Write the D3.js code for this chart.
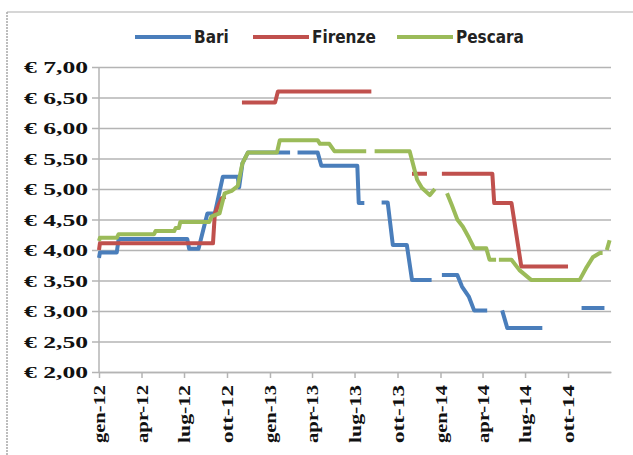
<!DOCTYPE html>
<html>
<head>
<meta charset="utf-8">
<script src="https://cdn.jsdelivr.net/npm/d3@7"></script>
<style>
  body { margin: 0; background: #fff; }
  svg { display: block; }
</style>
</head>
<body>
<svg id="chart" width="633" height="455"></svg>
<script>
// Series names and colours
const seriesNames = ["Bari", "Firenze", "Pescara"];
const seriesColors = ["#4a7ebb", "#c0504d", "#9bbb59"];

// Price steps, null = gap in the line
const bari = [
  ["2012-01-01", 3.87], ["2012-01-03", 3.96], ["2012-02-08", 3.96], ["2012-02-12", 4.18],
  ["2012-07-08", 4.18], ["2012-07-12", 4.02], ["2012-08-01", 4.02], ["2012-08-20", 4.6],
  ["2012-09-05", 4.6], ["2012-09-22", 5.2], ["2012-10-24", 5.2], ["2012-10-27", 5.03],
  ["2012-11-03", 5.42], ["2012-11-15", 5.6], ["2013-02-13", 5.6], null,
  ["2013-03-01", 5.6], ["2013-04-13", 5.6], ["2013-04-21", 5.38], ["2013-07-07", 5.38],
  ["2013-07-10", 4.77], ["2013-07-22", 4.77], null,
  ["2013-08-28", 4.78], ["2013-09-10", 4.78], ["2013-09-21", 4.08], ["2013-10-21", 4.08],
  ["2013-11-01", 3.51], ["2013-12-13", 3.51], null,
  ["2014-01-04", 3.59], ["2014-02-06", 3.59], ["2014-02-16", 3.4], ["2014-03-03", 3.23],
  ["2014-03-14", 3.01], ["2014-04-11", 3.01], null,
  ["2014-05-13", 3.01], ["2014-05-24", 2.72], ["2014-08-07", 2.72], null,
  ["2014-10-30", 3.05], ["2014-12-18", 3.05]
];

const firenze = [
  ["2012-01-01", 4.0], ["2012-01-03", 4.11], ["2012-09-01", 4.11], ["2012-09-05", 4.6],
  ["2012-09-20", 4.85], ["2012-09-28", 4.87], null,
  ["2012-11-02", 6.42], ["2013-01-12", 6.42], ["2013-01-18", 6.6], ["2013-08-06", 6.6], null,
  ["2013-11-01", 5.25], ["2013-12-03", 5.25], null,
  ["2014-01-04", 5.25], ["2014-04-22", 5.25], ["2014-04-26", 4.77], ["2014-06-02", 4.77],
  ["2014-06-23", 3.73], ["2014-10-01", 3.73]
];

const pescara = [
  ["2012-01-01", 4.15], ["2012-01-03", 4.2], ["2012-02-08", 4.2], ["2012-02-12", 4.26],
  ["2012-04-28", 4.26], ["2012-05-01", 4.31], ["2012-06-10", 4.31], ["2012-06-13", 4.36],
  ["2012-06-20", 4.36], ["2012-06-23", 4.46], ["2012-08-24", 4.46], ["2012-08-29", 4.55],
  ["2012-09-15", 4.6], ["2012-09-26", 4.93], ["2012-10-11", 4.97], ["2012-10-24", 5.05],
  ["2012-11-03", 5.42], ["2012-11-15", 5.6], ["2013-01-16", 5.6], ["2013-01-22", 5.8],
  ["2013-04-13", 5.8], ["2013-04-18", 5.74], ["2013-05-08", 5.74], ["2013-05-19", 5.62],
  ["2013-07-26", 5.62], null,
  ["2013-08-13", 5.62], ["2013-10-27", 5.62], ["2013-11-12", 5.15], ["2013-11-22", 5.02],
  ["2013-12-09", 4.9], ["2013-12-20", 5.0], null,
  ["2014-01-15", 4.93], ["2014-01-25", 4.74], ["2014-02-06", 4.5], ["2014-02-18", 4.38],
  ["2014-03-03", 4.2], ["2014-03-14", 4.03], ["2014-04-09", 4.03], ["2014-04-16", 3.84],
  ["2014-04-30", 3.84], null,
  ["2014-05-06", 3.84], ["2014-06-02", 3.84], ["2014-06-19", 3.67], ["2014-07-14", 3.51],
  ["2014-10-26", 3.51], ["2014-11-10", 3.72], ["2014-11-23", 3.88], ["2014-12-08", 3.95],
  ["2014-12-14", 3.95], null,
  ["2014-12-23", 4.0], ["2014-12-29", 4.16]
];

// Axis ticks
const yTicks = [2, 2.5, 3, 3.5, 4, 4.5, 5, 5.5, 6, 6.5, 7];
const xTickDates = ["2012-01-01", "2012-04-01", "2012-07-01", "2012-10-01", "2013-01-01", "2013-04-01",
  "2013-07-01", "2013-10-01", "2014-01-01", "2014-04-01", "2014-07-01", "2014-10-01"];
const xTickLabels = ["gen-12", "apr-12", "lug-12", "ott-12", "gen-13", "apr-13",
  "lug-13", "ott-13", "gen-14", "apr-14", "lug-14", "ott-14"];

const parse = d3.timeParse("%Y-%m-%d");
const margin = { top: 67, left: 99, right: 22, bottom: 83 };
const width = 633, height = 455;

const svg = d3.select("#chart");

// Outer chart frame (only top and left edges are visible)
svg.append("line").attr("x1", 7).attr("x2", 633).attr("y1", 12).attr("y2", 12)
  .attr("stroke", "#c8c8c8").attr("stroke-width", 1.5);
svg.append("line").attr("x1", 7).attr("x2", 7).attr("y1", 12).attr("y2", 455)
  .attr("stroke", "#a8a8a8").attr("stroke-width", 1.5).attr("stroke-dasharray", "2,1");

const xScale = d3.scaleTime()
  .domain([parse("2012-01-01"), parse("2015-01-01")])
  .range([margin.left, width - margin.right]);

const yScale = d3.scaleLinear()
  .domain([2, 7])
  .range([height - margin.bottom, margin.top]);

// Gridlines + y axis
const yAxis = d3.axisLeft(yScale)
  .tickValues(yTicks)
  .tickSize(-(width - margin.right - margin.left))
  .tickSizeOuter(0)
  .tickFormat(d => "€ " + d.toFixed(2).replace(".", ","));

const gy = svg.append("g")
  .attr("transform", `translate(${margin.left}, 0)`)
  .call(yAxis);
gy.select(".domain").remove();
gy.selectAll(".tick line")
  .attr("x1", -7)
  .attr("stroke", "#b4b4b4")
  .attr("stroke-width", 1.5);
gy.selectAll(".tick text")
  .attr("x", -11)
  .attr("dy", "0.35em")
  .attr("fill", "#111")
  .style("font-family", "'Liberation Serif', 'Times New Roman', serif")
  .style("font-weight", "bold")
  .style("font-size", "17px")
  .attr("textLength", 64)
  .attr("lengthAdjust", "spacingAndGlyphs");

// Vertical axis line
svg.append("line")
  .attr("x1", margin.left).attr("x2", margin.left)
  .attr("y1", margin.top).attr("y2", height - margin.bottom)
  .attr("stroke", "#b4b4b4").attr("stroke-width", 1.5);

// X axis
const xAxis = d3.axisBottom(xScale)
  .tickValues(xTickDates.map(parse))
  .tickSize(6)
  .tickSizeOuter(0)
  .tickFormat((d, i) => xTickLabels[i]);

const gx = svg.append("g")
  .attr("transform", `translate(0, ${height - margin.bottom})`)
  .call(xAxis);
gx.select(".domain").attr("stroke", "#b4b4b4").attr("stroke-width", 1.5);
gx.selectAll(".tick line").attr("stroke", "#b4b4b4").attr("stroke-width", 1.5);
gx.selectAll(".tick text")
  .attr("transform", "rotate(-90)")
  .attr("x", -13)
  .attr("y", 0)
  .attr("dy", "0.35em")
  .attr("text-anchor", "end")
  .attr("fill", "#111")
  .style("font-family", "'Liberation Serif', 'Times New Roman', serif")
  .style("font-weight", "bold")
  .style("font-size", "17px")
  .attr("textLength", 58)
  .attr("lengthAdjust", "spacingAndGlyphs");

// Lines
const line = d3.line()
  .defined(d => d !== null)
  .x(d => xScale(parse(d[0])))
  .y(d => yScale(d[1]));

[bari, firenze, pescara].forEach((series, i) => {
  svg.append("path")
    .datum(series)
    .attr("d", line)
    .attr("fill", "none")
    .attr("stroke", seriesColors[i])
    .attr("stroke-width", 4)
    .attr("stroke-linejoin", "round");
});

// Legend
const legendX = [135, 253, 397];
const legend = svg.append("g");
seriesNames.forEach((name, i) => {
  legend.append("line")
    .attr("x1", legendX[i]).attr("x2", legendX[i] + 56)
    .attr("y1", 37).attr("y2", 37)
    .attr("stroke", seriesColors[i]).attr("stroke-width", 4);
  legend.append("text")
    .attr("x", legendX[i] + 59)
    .attr("y", 37)
    .attr("dy", "0.35em")
    .attr("fill", "#222")
    .style("font-family", "'Liberation Sans Narrow', 'DejaVu Sans Condensed', sans-serif")
    .style("font-weight", "bold")
    .style("font-size", "17px")
    .text(name);
});
</script>
</body>
</html>
